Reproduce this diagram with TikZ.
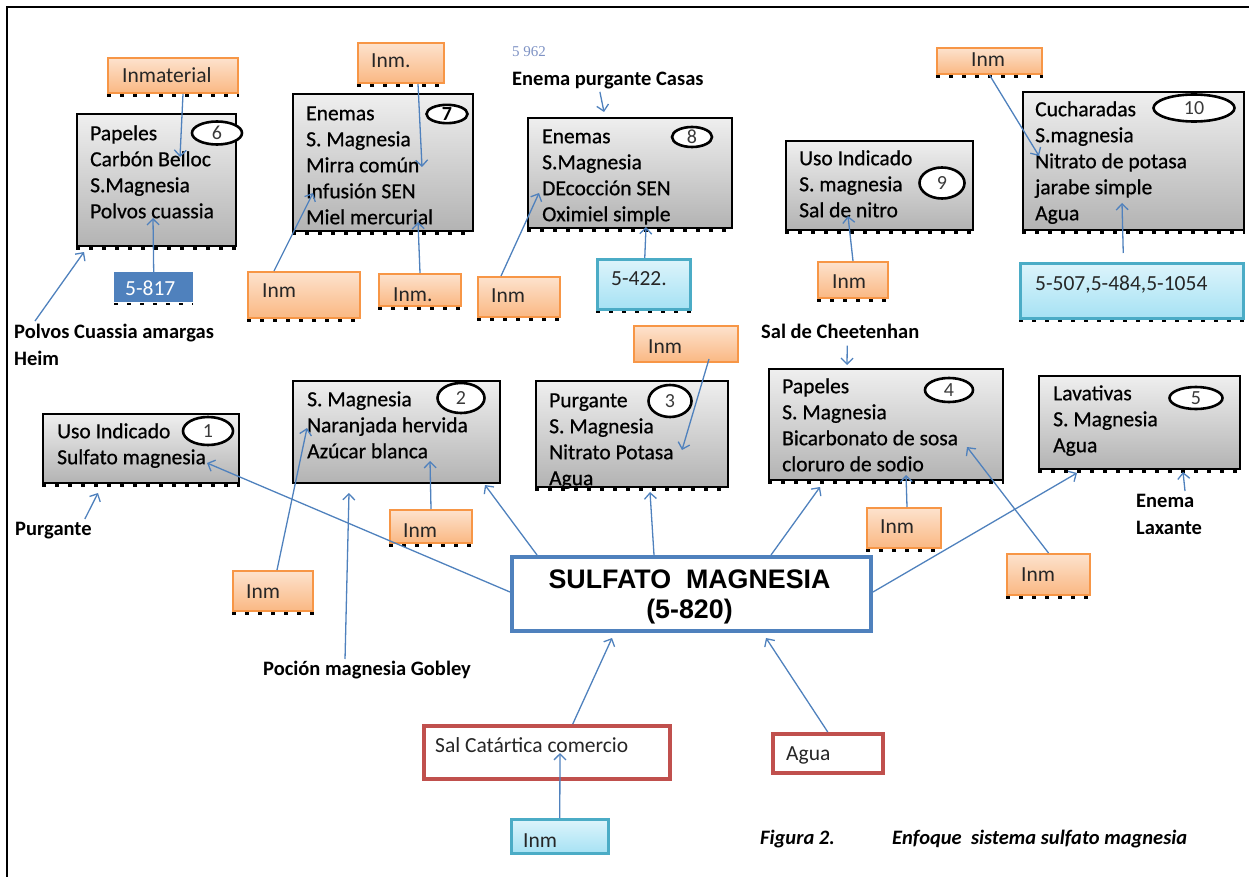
\documentclass[tikz,border=0pt]{standalone}
\usepackage{fontspec}
\setmainfont{Carlito}
\newfontfamily\boxfont{Carlito}[FakeBold=0.6]
\newfontfamily\arialfont{Liberation Sans}
\newfontfamily\seriffont{Liberation Serif}
\usetikzlibrary{arrows.meta,shapes.geometric}
\definecolor{arrowblue}{HTML}{4F81BD}
\definecolor{orborder}{HTML}{F79646}
\definecolor{ortop}{HTML}{FDE2CD}
\definecolor{orbot}{HTML}{FAB883}
\definecolor{cyborder}{HTML}{4BACC6}
\definecolor{cytop}{HTML}{DDF4FB}
\definecolor{cybot}{HTML}{A6E2F4}
\definecolor{redborder}{HTML}{C0504D}
\definecolor{gbtop}{HTML}{EFEFEF}
\definecolor{gbbot}{HTML}{B3B3B3}
\definecolor{numgray}{HTML}{3A3A3A}
\definecolor{faintblue}{HTML}{7E92C4}
\newcommand\bx[6]{\node[#1, minimum width={(#5)-(#3)}, minimum height={(#6)-(#4)}] (#2) at (#3,#4) {};}
\newcommand\fl{\rule{0pt}{17pt}}
\newcommand\flb{\rule{0pt}{16pt}}
\tikzset{
  gbox/.style={draw=black, line width=1.8pt, top color=gbtop, bottom color=gbbot, inner sep=0pt, anchor=north west},
  obox/.style={draw=orborder, line width=2pt, top color=ortop, bottom color=orbot, inner sep=0pt, anchor=north west},
  cbox/.style={draw=cyborder, line width=2.5pt, top color=cytop, bottom color=cybot, inner sep=0pt, anchor=north west},
  rbox/.style={draw=redborder, line width=3.5pt, fill=white, inner sep=0pt, anchor=north west},
  bbox/.style={fill=arrowblue, inner sep=0pt, anchor=north west},
  mbox/.style={draw=arrowblue, line width=4pt, fill=white, inner sep=0pt, anchor=north west},
  num/.style={ellipse, draw=black, line width=2.6pt, fill=white, inner sep=0pt, text=numgray, font=\fontsize{20}{20}\selectfont},
  txt/.style={font=\boxfont\fontsize{21.5}{26}\selectfont, align=left, inner sep=0pt, anchor=north west, text=black},
  stxt/.style={font=\fontsize{21.5}{26}\selectfont, inner sep=0pt, anchor=base west, text=black!85},
  lbl/.style={font=\fontsize{20.5}{27}\selectfont\bfseries, align=left, inner sep=0pt, anchor=north west},
  capt/.style={font=\fontsize{20.5}{24}\selectfont\bfseries\itshape, inner sep=0pt, anchor=base west},
  arr/.style={draw=arrowblue, line width=1.3pt, -{Straight Barb[length=6pt,width=12pt]}},
  shd/.style={draw=black, line width=2.5pt, dash pattern=on 4pt off 9pt},
}
\begin{document}
\begin{tikzpicture}[x=1pt,y=-1pt]
\useasboundingbox (0,0) rectangle (1249,877);
% frame
\draw[line width=2.5pt] (7,877) -- (7,7) -- (1249,7);

% shadow dashes drawn beneath boxes
\newcommand\shadowline[4]{\draw[shd] (#1,#3) -- (#2,#3);}

% gray boxes
\bx{gbox}{b6}{76}{113}{235}{245}
\bx{gbox}{b7}{292}{93}{472}{230}
\bx{gbox}{b8}{527}{117}{731}{227}
\bx{gbox}{b9}{785}{140}{972}{229}
\bx{gbox}{b10}{1022}{91}{1243}{229}
\bx{gbox}{b1}{42}{413}{238}{482}
\bx{gbox}{b2}{292}{380}{499}{482}
\bx{gbox}{b3}{535}{380}{727}{486}
\bx{gbox}{b4}{768}{368}{1002}{479}
\bx{gbox}{b5}{1038}{375}{1239}{468}

% orange boxes
\bx{obox}{oinm}{107}{57}{237}{92}
\bx{obox}{o7t}{357}{42}{443}{82}
\bx{obox}{o7bl}{247}{271}{359}{317}
\bx{obox}{o7bm}{378}{273}{460}{305}
\bx{obox}{o8}{477}{276}{559}{316}
\bx{obox}{o10}{936}{47}{1041}{73}
\bx{obox}{o9}{817}{261}{887}{297}
\bx{obox}{o2}{389}{509}{471}{542}
\bx{obox}{o2b}{232}{570}{312}{610}
\bx{obox}{o3}{633}{325}{737}{361}
\bx{obox}{o4}{866}{507}{940}{547}
\bx{obox}{o5}{1006}{553}{1089}{594}

% cyan boxes
\bx{cbox}{c8}{596}{258}{689}{308}
\bx{cbox}{c10}{1019}{262}{1242}{317}
\bx{cbox}{cbot}{510}{818}{607}{852}

% blue box
\bx{bbox}{b817}{114}{272}{193}{302}

% red boxes
\bx{rbox}{rsal}{422}{724}{668}{777}
\bx{rbox}{ragua}{771}{732}{881}{771}

% main box
\bx{mbox}{main}{510}{555}{869}{629}

% shadow dashes
\foreach \n in {b6,b7,b8,b9,b10,b1,b3,b4,b5,oinm,o7t,o7bl,o7bm,o8,o10,o9,o2,o2b,o4,o5,c8,c10,b817}
  \draw[shd] ([yshift=-1.5pt]\n.south west) -- ([yshift=-1.5pt]\n.south east);

% number ellipses
\node[num, minimum width=50, minimum height=23] (e6) at (217,133) {6};
\node[num, minimum width=41, minimum height=18, text=black, font=\fontsize{20}{20}\selectfont\bfseries] (e7) at (447,114) {7};
\node[num, minimum width=40, minimum height=20] (e8) at (692,137) {8};
\node[num, minimum width=45, minimum height=31] (e9) at (942,183) {9};
\node[num, minimum width=81, minimum height=27] (e10) at (1194,108) {10};
\node[num, minimum width=50, minimum height=28] (e1) at (208,431) {1};
\node[num, minimum width=47, minimum height=30] (e2) at (461,398) {2};
\node[num, minimum width=43, minimum height=32] (e3) at (670,401) {3};
\node[num, minimum width=48, minimum height=24] (e4) at (949,390) {4};
\node[num, minimum width=53, minimum height=22] (e5) at (1196,398) {5};

% box texts
\node[txt] (t6) at (90,123) {\fl Papeles\\Carbón Belloc\\S.Magnesia\\Polvos cuassia};
\node[txt] (t7) at (306,103) {\fl Enemas\\S. Magnesia\\Mirra común\\Infusión SEN\\Miel mercurial};
\node[txt] (t8) at (542,126) {\fl Enemas\\S.Magnesia\\DEcocción SEN\\Oximiel simple};
\node[txt] (t9) at (799,148) {\fl Uso Indicado\\S. magnesia\\Sal de nitro};
\node[txt] (t10) at (1035,99) {\fl Cucharadas\\S.magnesia\\Nitrato de potasa\\jarabe simple\\Agua};
\node[txt] (t1) at (57,421) {\fl Uso Indicado\\Sulfato magnesia};
\node[txt] (t2) at (307,389) {\fl S. Magnesia\\Naranjada hervida\\Azúcar blanca};
\node[txt] (t3) at (549,390) {\fl Purgante\\S. Magnesia\\Nitrato Potasa\\Agua};
\node[txt] (t4) at (782,376) {\fl Papeles\\S. Magnesia\\Bicarbonato de sosa\\cloruro de sodio};
\node[txt] (t5) at (1053,383) {\fl Lavativas\\S. Magnesia\\Agua};

% small box texts
\node[stxt] (xinm) at (122,83) {Inmaterial};
\node[stxt] (x7t) at (371,68) {Inm.};
\node[stxt] (x7bl) at (262,297) {Inm};
\node[stxt] (x7bm) at (393,301) {Inm.};
\node[stxt] (x8) at (491,302) {Inm};
\node[stxt] (x10) at (971,67) {Inm};
\node[stxt] (x9) at (832,288) {Inm};
\node[stxt] (x2) at (403,537) {Inm};
\node[stxt] (x2b) at (246,598) {Inm};
\node[stxt] (x3) at (648,353) {Inm};
\node[stxt] (x4) at (880,533) {Inm};
\node[stxt] (x5) at (1021,581) {Inm};
\node[stxt] (xc8) at (611,285) {5-422.};
\node[stxt] (xc10) at (1035,290) {5-507,5-484,5-1054};
\node[stxt] (xcbot) at (523,847) {Inm};
\node[stxt, text=white] (x817) at (125,295) {5-817};
\node[stxt] (xsal) at (435,752) {Sal Catártica comercio};
\node[stxt] (xagua) at (786,760) {Agua};

% main text
\node[font=\arialfont\bfseries\fontsize{26.8}{30}\selectfont, inner sep=0pt, anchor=base] (m1) at (689.5,588) {SULFATO\ \ MAGNESIA};
\node[font=\arialfont\bfseries\fontsize{26.8}{30}\selectfont, inner sep=0pt, anchor=base] (m2) at (689.5,618) {(5-820)};

% labels
\node[lbl] (lPolvos) at (14,322) {\flb Polvos Cuassia amargas\\Heim};
\node[lbl] (lCasas) at (512,69) {\flb Enema purgante Casas};
\node[lbl] (lPurg) at (15,519) {\flb Purgante};
\node[lbl] (lGobley) at (263,659) {\flb Poción magnesia Gobley};
\node[lbl] (lCheet) at (761,322) {\flb Sal de Cheetenhan};
\node[lbl] (lLax) at (1136,491) {\flb Enema\\Laxante};
\node[font=\seriffont\fontsize{15}{15}\selectfont, text=faintblue, inner sep=0pt, anchor=base west] (n5962) at (512,57) {5 962};
\node[capt] (capA) at (760,844) {Figura 2.};
\node[capt] (capB) at (892,844) {Enfoque\ \ sistema sulfato magnesia};

% arrow tip coordinates
\coordinate (a1) at (180,157);
\coordinate (a2) at (153,218);
\coordinate (a3) at (84,252);
\coordinate (a4) at (422,167);
\coordinate (a5) at (313,193);
\coordinate (a6) at (418,222);
\coordinate (a7) at (539,193);
\coordinate (a8) at (646,227);
\coordinate (a9) at (604,112);
\coordinate (a10) at (1039,156);
\coordinate (a11) at (1122,203);
\coordinate (a12) at (848,216);
\coordinate (a13) at (98,493);
\coordinate (a14) at (307,428);
\coordinate (a15) at (349,493);
\coordinate (a16) at (430,461);
\coordinate (a17) at (485,485);
\coordinate (a18) at (207,463);
\coordinate (a19) at (682,450);
\coordinate (a20) at (650,492);
\coordinate (a21) at (847,365);
\coordinate (a22) at (820,487);
\coordinate (a23) at (906,475);
\coordinate (a24) at (1077,473);
\coordinate (a25) at (1183,472);
\coordinate (a26) at (967,447);
\coordinate (a29) at (560,753);

% connectors
\draw[arr] ([xshift=10pt]oinm.south) -- (a1);
\draw[arr] (b817.north) -- (a2);
\draw[arr] ([xshift=21pt,yshift=1pt]lPolvos.north west) -- (a3);
\draw[arr] ([xshift=17pt]o7t.south) -- (a4);
\draw[arr] ([xshift=-30pt]o7bl.north) -- (a5);
\draw[arr] (o7bm.north) -- (a6);
\draw[arr] ([xshift=-18pt]o8.north) -- (a7);
\draw[arr] ([xshift=1pt]c8.north) -- (a8);
\draw[arr] ([xshift=-8pt,yshift=-3pt]lCasas.south) -- (a9);
\draw[arr] (o10.south) -- (a10);
\draw[arr] ([xshift=-8.5pt,yshift=9pt]c10.north) -- (a11);
\draw[arr] (o9.north) -- (a12);
\draw[arr] ([xshift=-7pt]lPurg.north east) -- (a13);
\draw[arr] ([xshift=4pt]o2b.north) -- (a14);
\draw[arr] ([xshift=-22pt]lGobley.north) -- (a15);
\draw[arr] (o2.north) -- (a16);
\draw[arr] ([xshift=27pt]main.north west) -- (a17);
\draw[arr] ([yshift=2pt]main.west) -- (a18);
\draw[arr] ([xshift=23pt,yshift=4pt]o3.south) -- (a19);
\draw[arr] ([xshift=-37.5pt]main.north) -- (a20);
\draw[arr] ([xshift=7pt,yshift=-7pt]lCheet.south) -- (a21);
\draw[arr] ([xshift=79.5pt]main.north) -- (a22);
\draw[arr] ([xshift=3pt]o4.north) -- (a23);
\draw[arr] ([yshift=2pt]main.east) -- (a24);
\draw[arr] ([xshift=49pt]lLax.north west) -- (a25);
\draw[arr] (o5.north) -- (a26);
\draw[arr] ([xshift=26pt]rsal.north) -- ([xshift=-79.5pt,yshift=-5pt]main.south);
\draw[arr] (ragua.north) -- ([xshift=74.5pt,yshift=-5pt]main.south);
\draw[arr] (cbot.north) -- (a29);
\end{tikzpicture}
\end{document}
